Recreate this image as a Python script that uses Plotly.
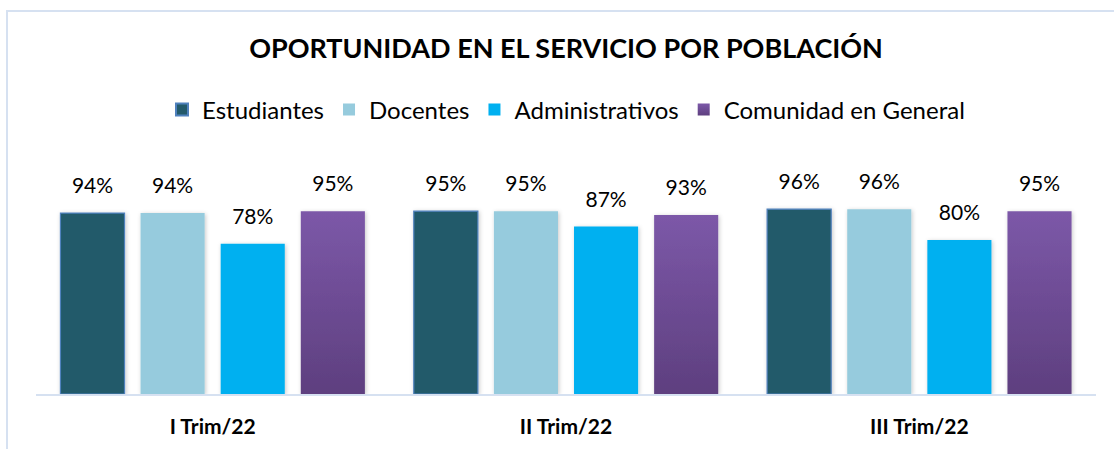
import plotly.graph_objects as go

# Quarterly service-timeliness results by population group
trimestres = ["I Trim/22", "II Trim/22", "III Trim/22"]
estudiantes = [94, 95, 96]
docentes = [94, 95, 96]
administrativos = [78, 87, 80]
comunidad = [95, 93, 95]

series = [
    ("Estudiantes", estudiantes, "#235A6B", "#4F81BD", 1.2),
    ("Docentes", docentes, "#96CBDD", "#96CBDD", 0),
    ("Administrativos", administrativos, "#00B0F0", "#00B0F0", 0),
    ("Comunidad en General", comunidad, "#6C4B93", "#6C4B93", 0),
]

FONT = "Lato, 'Open Sans', sans-serif"

fig = go.Figure()
for name, vals, fill, edge, edge_w in series:
    fig.add_trace(go.Bar(
        name=name,
        x=trimestres,
        y=vals,
        text=[f"{v}%" for v in vals],
        textposition="outside",
        textfont=dict(family=FONT, size=21, color="#000000"),
        cliponaxis=False,
        marker=dict(color=fill, line=dict(color=edge, width=edge_w)),
    ))

fig.update_layout(
    width=1114,
    height=449,
    margin=dict(l=36, r=18, t=163, b=55),
    paper_bgcolor="#FFFFFF",
    plot_bgcolor="#FFFFFF",
    barmode="group",
    bargap=0.093,
    bargroupgap=0.2,
    title=dict(
        text="OPORTUNIDAD EN EL SERVICIO POR POBLACIÓN",
        x=0.5, xref="paper", xanchor="center",
        y=1 - 49 / 449, yanchor="middle",
        font=dict(family=FONT, size=27, color="#000000", weight="bold"),
    ),
    legend=dict(
        orientation="h",
        x=0.5, xanchor="center",
        y=1 + 53 / 231, yanchor="middle",
        font=dict(family=FONT, size=24, color="#000000"),
        itemsizing="constant",
        traceorder="normal",
    ),
    showlegend=True,
    xaxis=dict(
        showline=True,
        linecolor="#D6E1F1",
        linewidth=2,
        ticks="",
        ticklabelstandoff=13,
        tickfont=dict(family=FONT, size=21, color="#000000", weight="bold"),
        showgrid=False,
    ),
    yaxis=dict(
        range=[0, 120],
        visible=False,
        showgrid=False,
        zeroline=False,
    ),
)

# Light frame around the chart area
fig.add_shape(
    type="rect",
    xref="paper", yref="paper",
    x0=-29 / 1060, x1=1.2,
    y0=-0.5, y1=1 + 152 / 231,
    line=dict(color="#D6E1F1", width=2),
    fillcolor="rgba(0,0,0,0)",
    layer="below",
)

post_js = """
(function(){
  var gd = document.getElementById('{plot_id}');
  var ns = 'http://www.w3.org/2000/svg';
  function decorate(){
    var svg = gd.querySelector('svg.main-svg');
    var defs = svg.querySelector('defs');
    if (!document.getElementById('purpleGrad')) {
      var lg = document.createElementNS(ns, 'linearGradient');
      lg.setAttribute('id', 'purpleGrad');
      lg.setAttribute('x1', '0'); lg.setAttribute('y1', '0');
      lg.setAttribute('x2', '0'); lg.setAttribute('y2', '1');
      [['0%', '#7C58A8'], ['100%', '#5E3F7F']].forEach(function(s){
        var st = document.createElementNS(ns, 'stop');
        st.setAttribute('offset', s[0]);
        st.setAttribute('stop-color', s[1]);
        lg.appendChild(st);
      });
      defs.appendChild(lg);
      var f = document.createElementNS(ns, 'filter');
      f.setAttribute('id', 'barShadow');
      f.setAttribute('x', '-20%'); f.setAttribute('y', '-5%');
      f.setAttribute('width', '140%'); f.setAttribute('height', '115%');
      var ds = document.createElementNS(ns, 'feDropShadow');
      ds.setAttribute('dx', '1'); ds.setAttribute('dy', '1');
      ds.setAttribute('stdDeviation', '2');
      ds.setAttribute('flood-color', '#000');
      ds.setAttribute('flood-opacity', '0.22');
      f.appendChild(ds);
      defs.appendChild(f);
    }
    var traces = gd.querySelectorAll('.barlayer .trace.bars');
    traces.forEach(function(t, i){
      t.querySelectorAll('.point path').forEach(function(p){
        p.style.filter = 'url(#barShadow)';
        if (i === 3) p.style.fill = 'url(#purpleGrad)';
      });
      t.querySelectorAll('text.bartext').forEach(function(tx){
        if (!tx.getAttribute('data-shifted')) {
          var tr = tx.getAttribute('transform') || '';
          tx.setAttribute('transform', 'translate(0,-13) ' + tr);
          tx.setAttribute('data-shifted', '1');
        }
      });
    });
    var leg = gd.querySelectorAll('.legend .traces');
    if (leg.length > 3) {
      leg[3].querySelectorAll('.legendpoints path').forEach(function(p){
        p.style.fill = 'url(#purpleGrad)';
      });
    }
  }
  decorate();
  gd.on('plotly_afterplot', function(){ setTimeout(decorate, 0); });
})();
"""

fig.write_html("out.html", post_script=post_js)
